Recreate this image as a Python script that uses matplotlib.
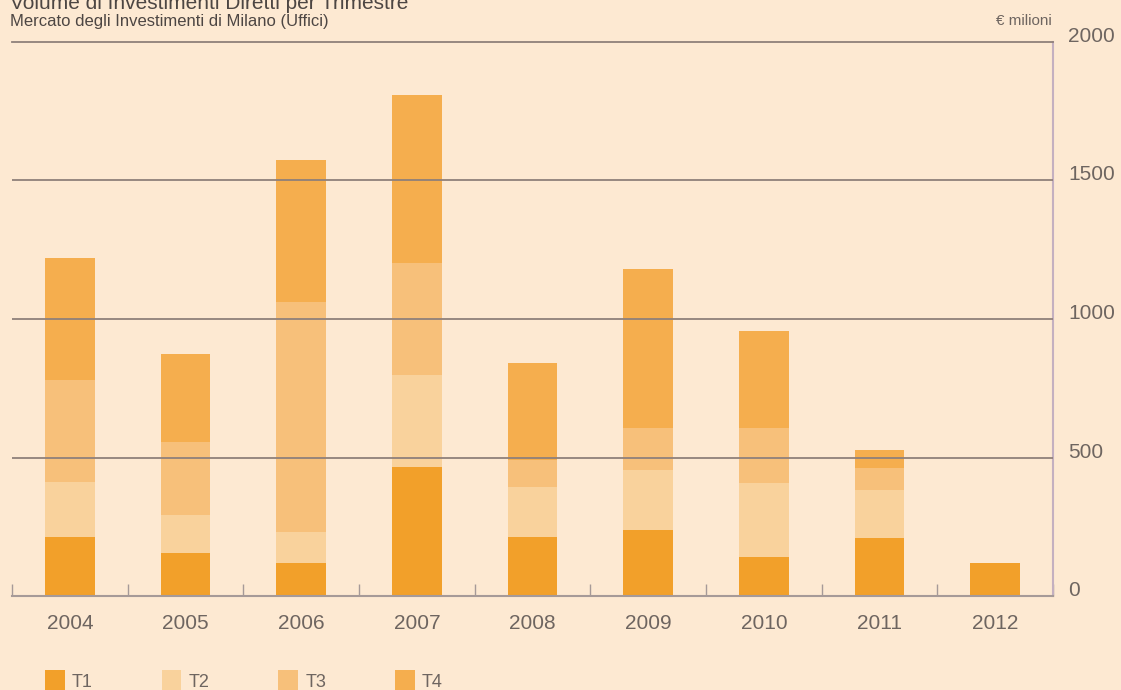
import numpy as np
import matplotlib.pyplot as plt
from matplotlib.patches import Patch

plt.rcParams['font.family'] = ['Liberation Sans', 'DejaVu Sans']

# --- Data: Milan office investment volume by quarter (EUR million) ---
years = ['2004', '2005', '2006', '2007', '2008', '2009', '2010', '2011', '2012']
t1 = [213, 155, 119, 466, 213, 238, 141, 209, 119]
t2 = [199, 137, 112, 332, 181, 217, 267, 174, 0]
t3 = [368, 264, 830, 404, 97, 151, 198, 79, 0]
t4 = [440, 318, 513, 607, 350, 575, 351, 65, 0]
quarters = ['T1', 'T2', 'T3', 'T4']
y_ticks = [0, 500, 1000, 1500, 2000]

# --- Styling ---
bg = '#fde9d2'
colors = ['#f2a02a', '#f9d29c', '#f7c07a', '#f5ae4e']
text_grey = '#6e6560'
grid_col = '#8f807a'

fig = plt.figure(figsize=(11.21, 6.9), dpi=100, facecolor=bg)
ax = fig.add_axes([12 / 1121, 1 - 596 / 690, (1053 - 12) / 1121, (596 - 42) / 690])
ax.set_facecolor(bg)

x = np.arange(len(years))
series = [t1, t2, t3, t4]
bottom = np.zeros(len(years))
handles = []
for vals, col, name in zip(series, colors, quarters):
    ax.bar(x, vals, width=0.43, bottom=bottom, color=col, linewidth=0, zorder=2)
    bottom += np.array(vals)
    handles.append(Patch(facecolor=col, edgecolor='none', label=name))

ax.set_xlim(-0.5, len(years) - 0.5)
ax.set_ylim(y_ticks[0], y_ticks[-1])

# horizontal rules drawn over the bars
for v in y_ticks[1:-1]:
    ax.axhline(v, color=grid_col, lw=1.3, zorder=3)

# spines
ax.spines['left'].set_visible(False)
ax.spines['top'].set_color(grid_col)
ax.spines['top'].set_linewidth(1.3)
ax.spines['right'].set_color('#c4b0c0')
ax.spines['right'].set_linewidth(1.5)
ax.spines['bottom'].set_color('#a69a98')
ax.spines['bottom'].set_linewidth(1.5)

# x axis: year labels centred, small inward ticks between years
ax.set_xticks(x)
ax.set_xticklabels(years)
ax.set_xticks(np.arange(-0.5, len(years) - 0.4, 1.0), minor=True)
ax.tick_params(axis='x', which='major', length=0, pad=13, labelsize=15, labelcolor=text_grey)
ax.tick_params(axis='x', which='minor', direction='in', length=9, width=1, color='#a69a98')

# y axis labels on the right, sitting on the rules
ax.set_yticks(y_ticks)
ax.set_yticklabels([str(v) for v in y_ticks])
ax.yaxis.tick_right()
ax.tick_params(axis='y', length=0, pad=11, labelsize=15, labelcolor=text_grey)
for lab in ax.get_yticklabels():
    lab.set_verticalalignment('baseline')

# titles
fig.text(10 / 1121, 1 - 9 / 690, 'Volume di Investimenti Diretti per Trimestre',
         fontsize=15, color='#4d4643', va='baseline', ha='left')
fig.text(10 / 1121, 1 - 26 / 690, 'Mercato degli Investimenti di Milano (Uffici)',
         fontsize=12, color='#4d4643', va='baseline', ha='left')
fig.text(1052 / 1121, 1 - 25 / 690, '€ milioni',
         fontsize=11, color=text_grey, va='baseline', ha='right')

# legend along the bottom edge
fig.legend(handles=handles, loc='center left', bbox_to_anchor=(45 / 1121, 1 - 681 / 690),
           ncol=4, frameon=False, fontsize=13, labelcolor=text_grey,
           handlelength=1.1, handleheight=1.5, handletextpad=0.4,
           columnspacing=3.8, borderpad=0, borderaxespad=0)

fig.savefig('out.png', dpi=100, facecolor=bg)
